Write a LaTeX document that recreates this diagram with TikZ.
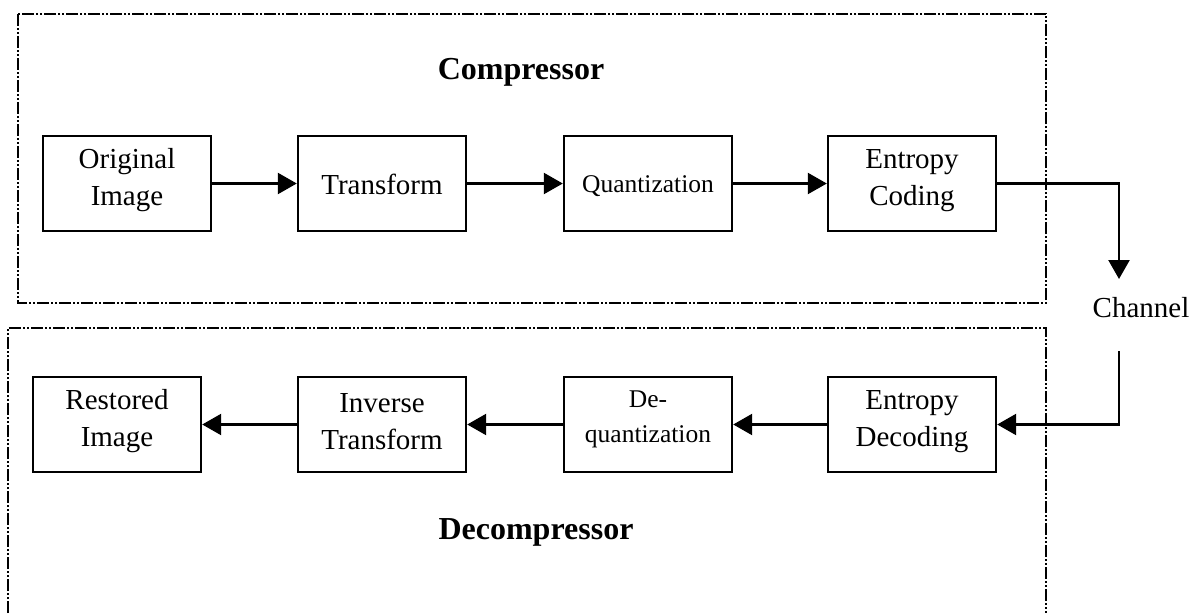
\documentclass[tikz,border=0pt]{standalone}
\usepackage{fontspec}
\setmainfont{Liberation Serif}
\usetikzlibrary{arrows.meta}
\begin{document}
\begin{tikzpicture}[x=1pt,y=-1pt,
  blk/.style={draw, line width=2.4pt, minimum width=168pt, minimum height=95pt, inner sep=0pt},
  txt/.style={align=center, inner sep=0pt, font=\fontsize{29}{37}\selectfont},
  stxt/.style={align=center, inner sep=0pt, font=\fontsize{25.5}{35}\selectfont},
  arr/.style={line width=2.4pt, -{Triangle[length=19pt,width=21pt]}},
  frame/.style={line width=2.4pt, dash pattern=on 12pt off 2pt on 2pt off 2pt on 2pt off 2pt},
  ttl/.style={font=\fontsize{32}{38}\selectfont\bfseries, inner sep=0pt, anchor=base}]
\useasboundingbox (0,0) rectangle (1193,613);

% frames
\draw[frame] (18,14) rectangle (1046,303);
\draw[frame] (8,613) -- (8,328) -- (1046,328) -- (1046,613);

% titles
\node[ttl] (comp) at (521,79) {Compressor};
\node[ttl] (decomp) at (536,539) {Decompressor};

% top row
\node[blk] (orig) at (127,183.5) {};
\node[blk] (tr) at (382,183.5) {};
\node[blk] (qu) at (648,183.5) {};
\node[blk] (ec) at (912,183.5) {};
\node[txt] (origT) at ([yshift=3pt]orig.center) {Original\\Image};
\node[txt] (trT) at ([yshift=-1pt]tr.center) {Transform};
\node[stxt] (quT) at ([yshift=-3pt]qu.center) {Quantization};
\node[txt] (ecT) at ([yshift=3pt]ec.center) {Entropy\\Coding};

% bottom row
\node[blk] (rest) at (117,424.5) {};
\node[blk] (itr) at (382,424.5) {};
\node[blk] (dq) at (648,424.5) {};
\node[blk] (ed) at (912,424.5) {};
\node[txt] (restT) at ([yshift=3pt]rest.center) {Restored\\Image};
\node[txt] (itrT) at ([yshift=3pt]itr.center) {Inverse\\Transform};
\node[stxt] (dqT) at ([yshift=5pt]dq.center) {De-\\quantization};
\node[txt] (edT) at ([yshift=3pt]ed.center) {Entropy\\Decoding};

% arrows top
\draw[arr] (orig.east) -- (tr.west);
\draw[arr] (tr.east) -- (qu.west);
\draw[arr] (qu.east) -- (ec.west);

% channel
\coordinate (chtop) at (1119,279);
\coordinate (chbot) at (1119,351);
\node[anchor=base, inner sep=0pt, font=\fontsize{29}{34}\selectfont] (ch) at (1141,317) {Channel};
\draw[arr] (ec.east) -| (chtop);
\draw[arr] (chbot) |- (ed.east);

% arrows bottom
\draw[arr] (ed.west) -- (dq.east);
\draw[arr] (dq.west) -- (itr.east);
\draw[arr] (itr.west) -- (rest.east);
\end{tikzpicture}
\end{document}
